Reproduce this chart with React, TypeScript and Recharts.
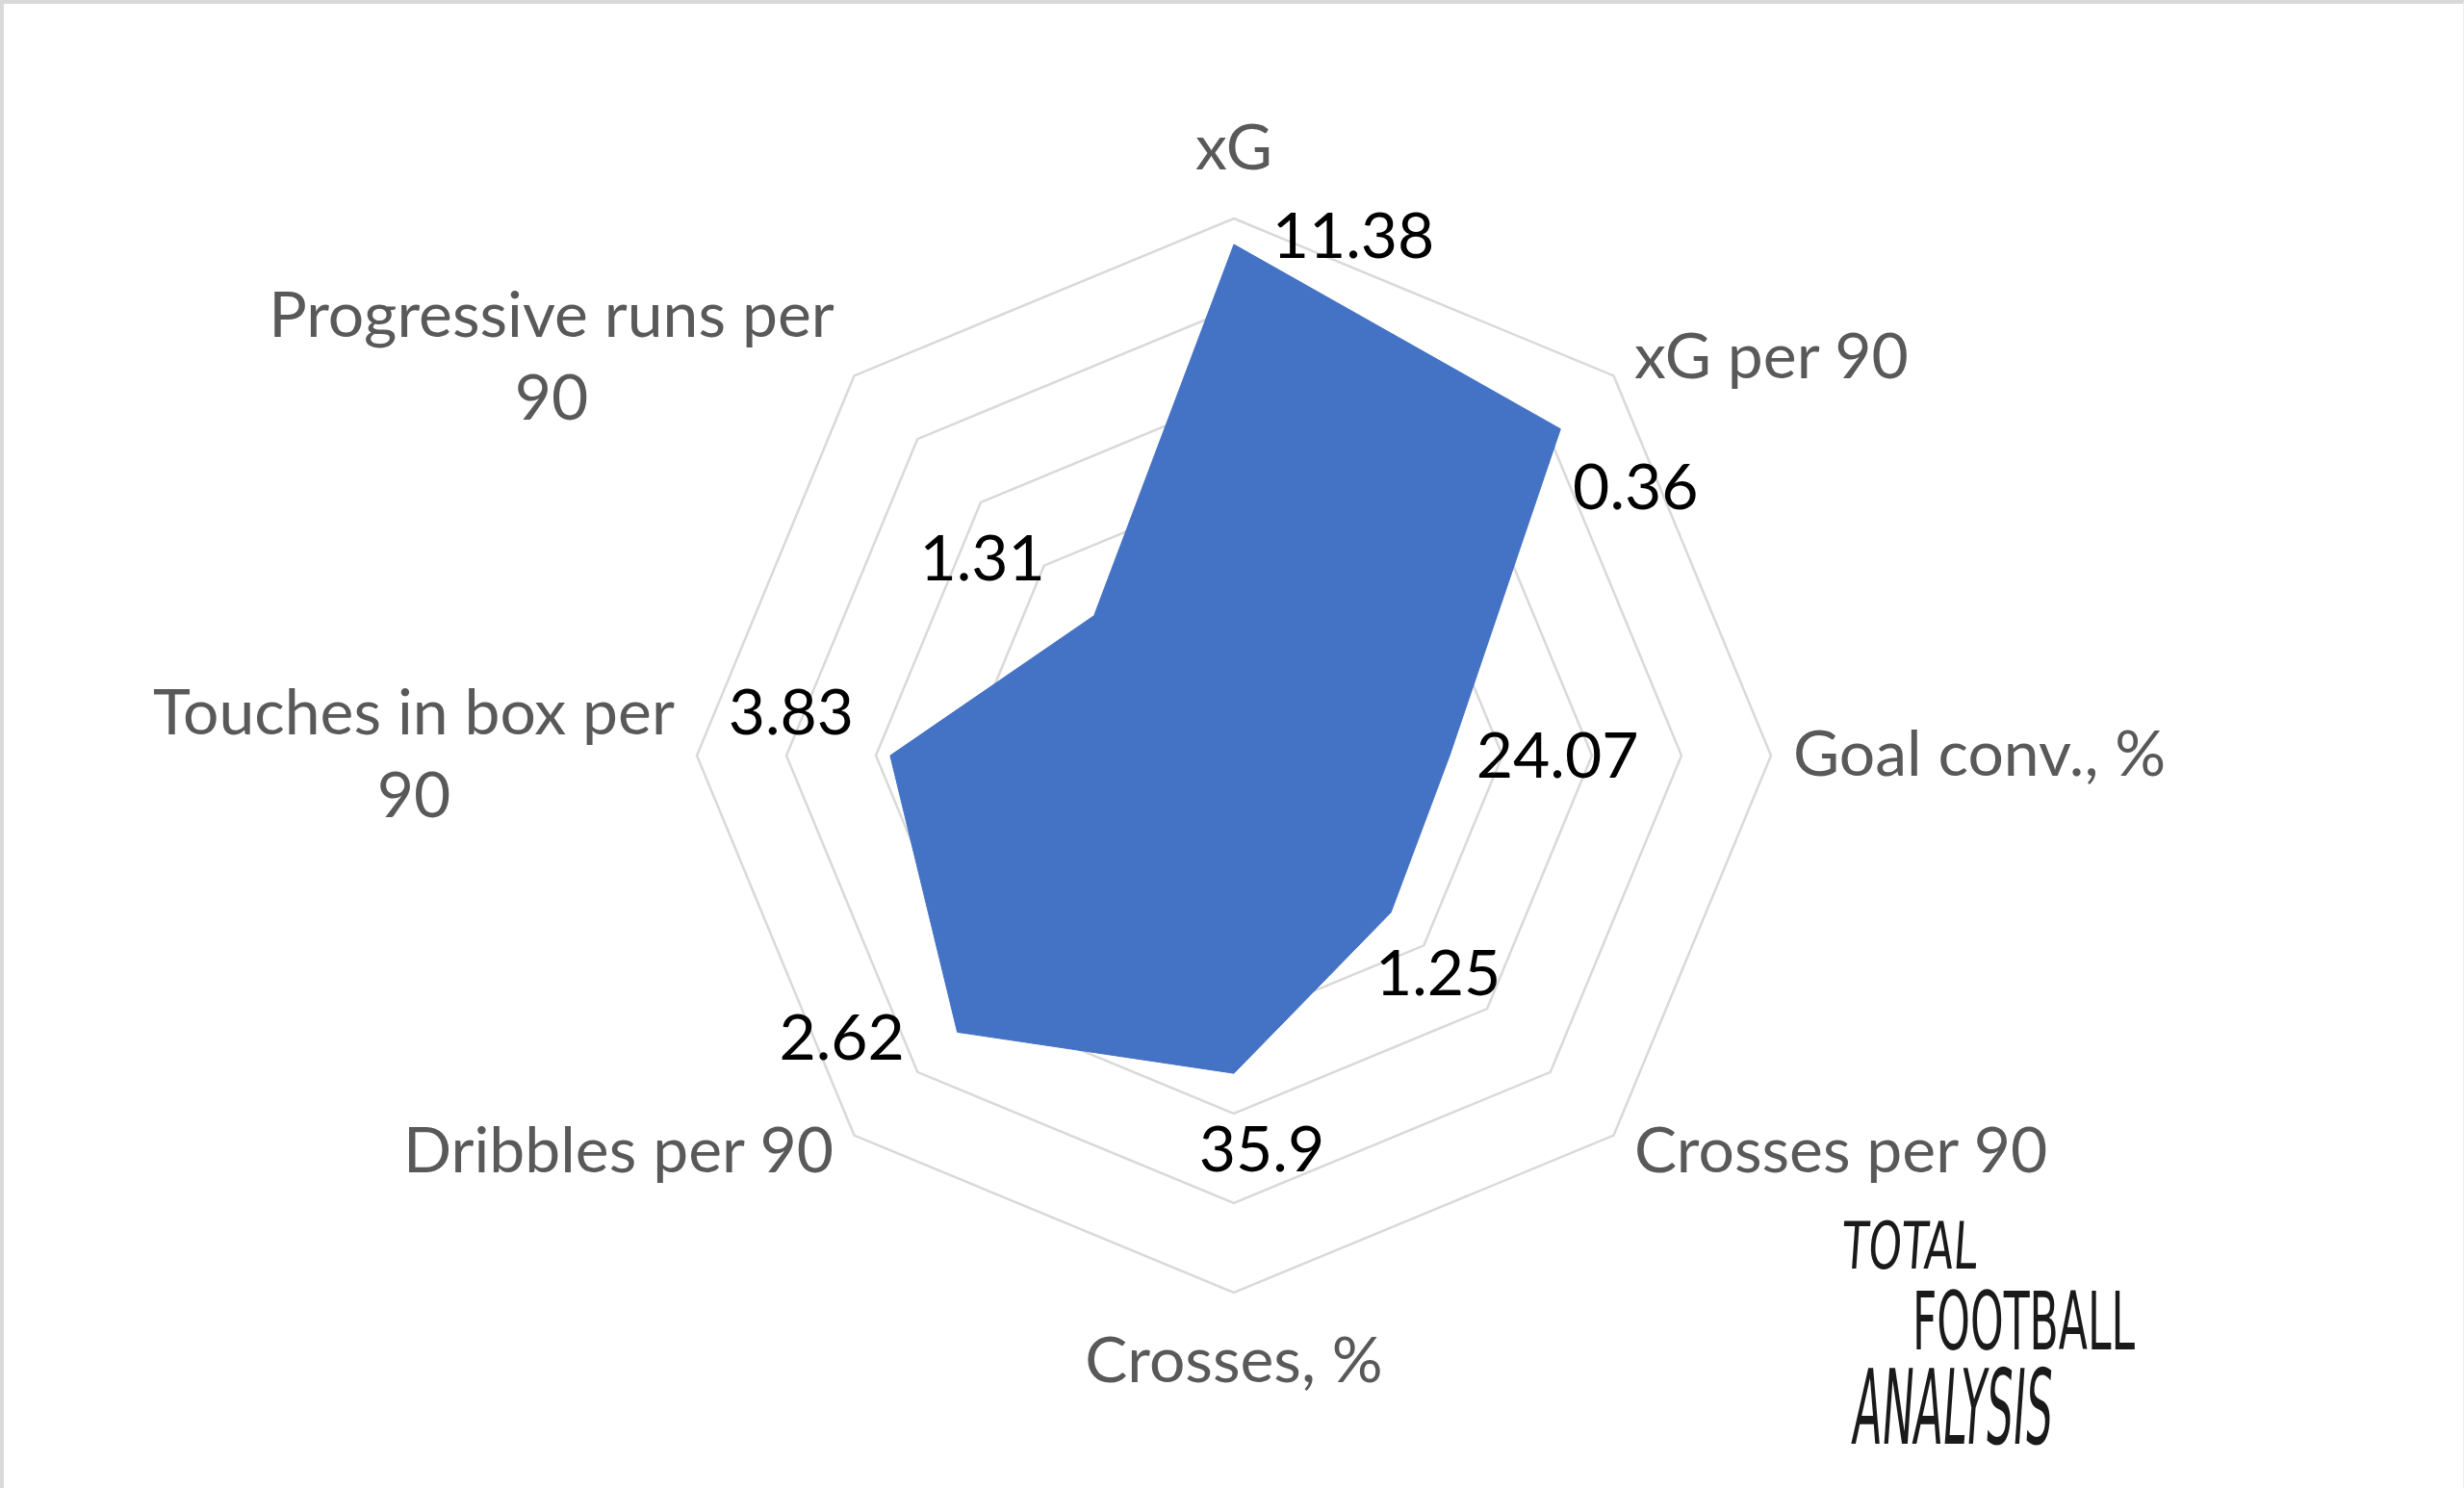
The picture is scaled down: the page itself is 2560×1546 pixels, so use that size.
import React from "react";
import { RadarChart, Radar, PolarGrid, PolarAngleAxis, PolarRadiusAxis } from "recharts";

// Metrics, going clockwise from the top
const METRICS = [
  "xG",
  "xG per 90",
  "Goal conv., %",
  "Crosses per 90",
  "Crosses, %",
  "Dribbles per 90",
  "Touches in box per 90",
  "Progressive runs per 90",
];

// plotted (normalised) score on a 0-6 scale
const SCORES = [5.71, 5.16, 2.41, 2.48, 3.55, 4.37, 3.84, 2.21];

// raw values shown next to each vertex
const VALUE_LABELS = ["11.38", "0.36", "24.07", "1.25", "35.9", "2.62", "3.83", "1.31"];

const RADIUS_TICKS = [0, 1, 2, 3, 4, 5, 6];

// nudges for the value labels, relative to the vertex (Excel-ish placement)
const LABEL_NUDGE: [number, number][] = [
  [124, -11],
  [78, 58],
  [112, -3],
  [49, 60],
  [29, 76],
  [-120, 3],
  [-103, -48],
  [-116, -62],
];

const W = 2560;
const H = 1546;
const CX = 1282;
const CY = 785;
const R = 558;
const FONT = "Lato, 'Open Sans', sans-serif";
const FONT_SIZE = 66;
const LINE_H = 86;
const WRAP_AT = 615;

const chartData = METRICS.map((metric, i) => ({
  metric,
  score: SCORES[i],
  label: VALUE_LABELS[i],
}));

let ctx: CanvasRenderingContext2D | null = null;
function textWidth(t: string) {
  if (!ctx) ctx = document.createElement("canvas").getContext("2d");
  if (!ctx) return t.length * FONT_SIZE * 0.5;
  ctx.font = `${FONT_SIZE}px Lato`;
  return ctx.measureText(t).width;
}

function wrap(label: string, maxWidth: number) {
  const words = label.split(" ");
  const lines: string[] = [];
  let cur = "";
  words.forEach((w) => {
    const next = cur ? cur + " " + w : w;
    if (cur && textWidth(next) > maxWidth) {
      lines.push(cur);
      cur = w;
    } else {
      cur = next;
    }
  });
  if (cur) lines.push(cur);
  return lines;
}

function CategoryTick(props: any) {
  const { x, y, payload } = props;
  const dx0 = x - CX;
  const dy0 = CY - y;
  const len = Math.sqrt(dx0 * dx0 + dy0 * dy0) || 1;
  const cos = dx0 / len;
  const sin = dy0 / len;
  const lines = wrap(String(payload.value), WRAP_AT);
  const blockW = Math.max(...lines.map(textWidth));

  let ax = x;
  let cyBlock = y - 5;
  if (Math.abs(cos) < 1e-3) {
    cyBlock -= Math.sign(sin) * 64;
  } else {
    ax = x + Math.sign(cos) * 15;
    cyBlock -= sin * 18;
  }
  // centre multi-line blocks under their widest line
  let midX = ax;
  if (Math.abs(cos) >= 1e-3) midX = cos > 0 ? ax + blockW / 2 : ax - blockW / 2;

  return (
    <g>
      {lines.map((line, i) => (
        <text
          key={i}
          x={midX}
          y={cyBlock + (i - (lines.length - 1) / 2) * LINE_H}
          textAnchor="middle"
          dominantBaseline="central"
          fill="#595959"
          fontFamily={FONT}
          fontSize={FONT_SIZE}
        >
          {line}
        </text>
      ))}
    </g>
  );
}

function ValueLabel(props: any) {
  const { cx, cy, index } = props;
  const [nx, ny] = LABEL_NUDGE[index] || [0, 0];
  return (
    <text
      x={cx + nx}
      y={cy + ny}
      textAnchor="middle"
      dominantBaseline="central"
      fill="#000000"
      fontFamily={FONT}
      fontSize={FONT_SIZE}
    >
      {VALUE_LABELS[index]}
    </text>
  );
}

function Logo() {
  return (
    <svg width={W} height={H} style={{ position: "absolute", left: 0, top: 0, pointerEvents: "none" }}>
      <g fontFamily="'DejaVu Sans Condensed', 'DejaVu Sans', sans-serif" fontWeight={400} fill="#1a1a1a">
        <text x={1910} y={1318} fontSize={68} textLength={140} lengthAdjust="spacingAndGlyphs" transform="skewX(-4) translate(95 0)">
          TOTAL
        </text>
        <text x={1987} y={1402} fontSize={84} textLength={231} lengthAdjust="spacingAndGlyphs">
          FOOTBALL
        </text>
        <text x={1920} y={1500} fontSize={108} textLength={207} lengthAdjust="spacingAndGlyphs" transform="skewX(-4) translate(108 0)">
          ANALYSIS
        </text>
      </g>
    </svg>
  );
}

export default function App() {
  return (
    <div
      style={{
        position: "absolute",
        left: 0,
        top: 0,
        width: W,
        height: H,
        background: "#ffffff",
        boxSizing: "border-box",
        borderTop: "4px solid #d9d9d9",
        borderLeft: "4px solid #d9d9d9",
        borderRight: "1px solid #eeeeee",
        overflow: "hidden",
      }}
    >
      <div style={{ position: "absolute", left: -4, top: -4 }}>
        <RadarChart width={W} height={H} data={chartData} cx={CX} cy={CY} outerRadius={R} margin={{ top: 0, right: 0, bottom: 0, left: 0 }}>
          <PolarGrid gridType="polygon" radialLines={false} stroke="#d9d9d9" strokeWidth={2.5} />
          <PolarRadiusAxis domain={[0, 6]} ticks={RADIUS_TICKS as any} tickCount={7} tick={false} axisLine={false} />
          <PolarAngleAxis dataKey="metric" tick={<CategoryTick />} tickLine={false} axisLine={false} />
          <Radar
            dataKey="score"
            fill="#4472C4"
            fillOpacity={1}
            stroke="#4472C4"
            strokeWidth={1}
            dot={(p: any) => <ValueLabel key={`dot-${p.index}`} {...p} />}
            isAnimationActive={false}
          />
        </RadarChart>
        <Logo />
      </div>
    </div>
  );
}
